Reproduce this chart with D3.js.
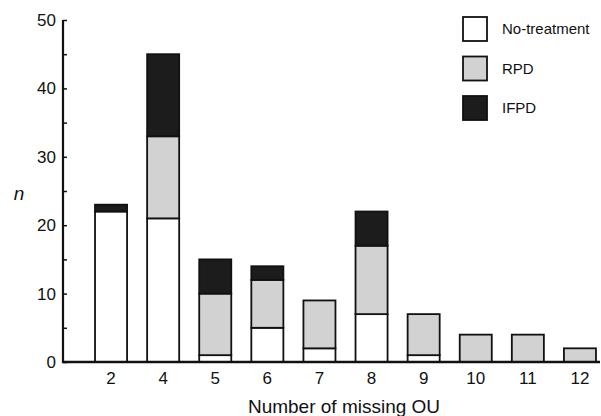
<!DOCTYPE html>
<html>
<head>
<meta charset="utf-8">
<script src="https://cdn.jsdelivr.net/npm/d3@7"></script>
<style>
  html, body { margin: 0; padding: 0; background: #fff; }
  svg { display: block; font-family: Arial, "Liberation Sans", sans-serif; }
</style>
</head>
<body>
<svg id="chart" width="601" height="416"></svg>
<script>
const categories = ["2", "4", "5", "6", "7", "8", "9", "10", "11", "12"];
const noTreatment = [22, 21, 1, 5, 2, 7, 1, 0, 0, 0];
const rpd         = [0, 12, 9, 7, 7, 10, 6, 4, 4, 2];
const ifpd        = [1, 12, 5, 2, 0, 5, 0, 0, 0, 0];
const seriesNames = ["No-treatment", "RPD", "IFPD"];
const seriesFill  = ["#ffffff", "#d2d2d2", "#1c1c1c"];
const yTicks = [0, 10, 20, 30, 40, 50];
const yMinorTicks = [0, 5, 10, 15, 20, 25, 30, 35, 40, 45, 50];

const svg = d3.select("#chart");
const x = d3.scaleBand().domain(categories).range([85, 606]).paddingInner(0.385).paddingOuter(0.1925);
const y = d3.scaleLinear().domain([0, 50]).range([362, 20]);

const rows = categories.map((c, i) => ({ cat: c, "No-treatment": noTreatment[i], "RPD": rpd[i], "IFPD": ifpd[i] }));
const stacked = d3.stack().keys(seriesNames)(rows);

const g = svg.append("g");
stacked.forEach((layer, li) => {
  g.selectAll(null).data(layer.filter(d => d[1] - d[0] > 0)).enter().append("rect")
    .attr("x", d => x(d.data.cat))
    .attr("width", x.bandwidth())
    .attr("y", d => y(d[1]))
    .attr("height", d => y(d[0]) - y(d[1]))
    .attr("fill", seriesFill[li])
    .attr("stroke", "#111")
    .attr("stroke-width", 1.8);
});

// Y axis
const yAxis = svg.append("g").attr("transform", "translate(63,0)")
  .call(d3.axisRight(y).tickValues(yMinorTicks).tickSize(4).tickFormat(""));
yAxis.select(".domain").remove();
yAxis.selectAll("line").attr("stroke", "#111").attr("stroke-width", 1.5);
svg.append("line").attr("x1", 63).attr("x2", 63).attr("y1", y(50)).attr("y2", y(0) + 1)
  .attr("stroke", "#111").attr("stroke-width", 2.2);
svg.append("g").selectAll("text").data(yTicks).enter().append("text")
  .attr("x", 56).attr("y", d => y(d)).attr("dy", "0.35em")
  .attr("text-anchor", "end").attr("font-size", 17).attr("fill", "#111")
  .text(d => d);

// X axis
const xAxis = svg.append("g").attr("transform", `translate(0,${y(0)})`)
  .call(d3.axisBottom(x).tickSize(0).tickPadding(10));
xAxis.select(".domain").remove();
xAxis.selectAll("text").attr("font-size", 17).attr("fill", "#111")
  .attr("font-family", "Arial, 'Liberation Sans', sans-serif");
svg.append("line").attr("x1", 62).attr("x2", 600).attr("y1", y(0)).attr("y2", y(0))
  .attr("stroke", "#111").attr("stroke-width", 2.6);

// Axis titles
svg.append("text").attr("x", 344).attr("y", 413).attr("text-anchor", "middle")
  .attr("font-size", 19).attr("fill", "#111").text("Number of missing OU");
svg.append("text").attr("x", 19).attr("y", 193).attr("dy", "0.35em").attr("text-anchor", "middle")
  .attr("font-size", 19).attr("font-style", "italic").attr("fill", "#111").text("n");

// Legend
const legend = svg.append("g");
seriesNames.forEach((name, i) => {
  const cy = 29 + i * 39.5;
  legend.append("rect").attr("x", 463).attr("y", cy - 12).attr("width", 24).attr("height", 24)
    .attr("fill", seriesFill[i]).attr("stroke", "#111").attr("stroke-width", 1.8);
  legend.append("text").attr("x", 502).attr("y", cy).attr("dy", "0.35em")
    .attr("font-size", 15).attr("fill", "#111").text(name);
});
</script>
</body>
</html>
